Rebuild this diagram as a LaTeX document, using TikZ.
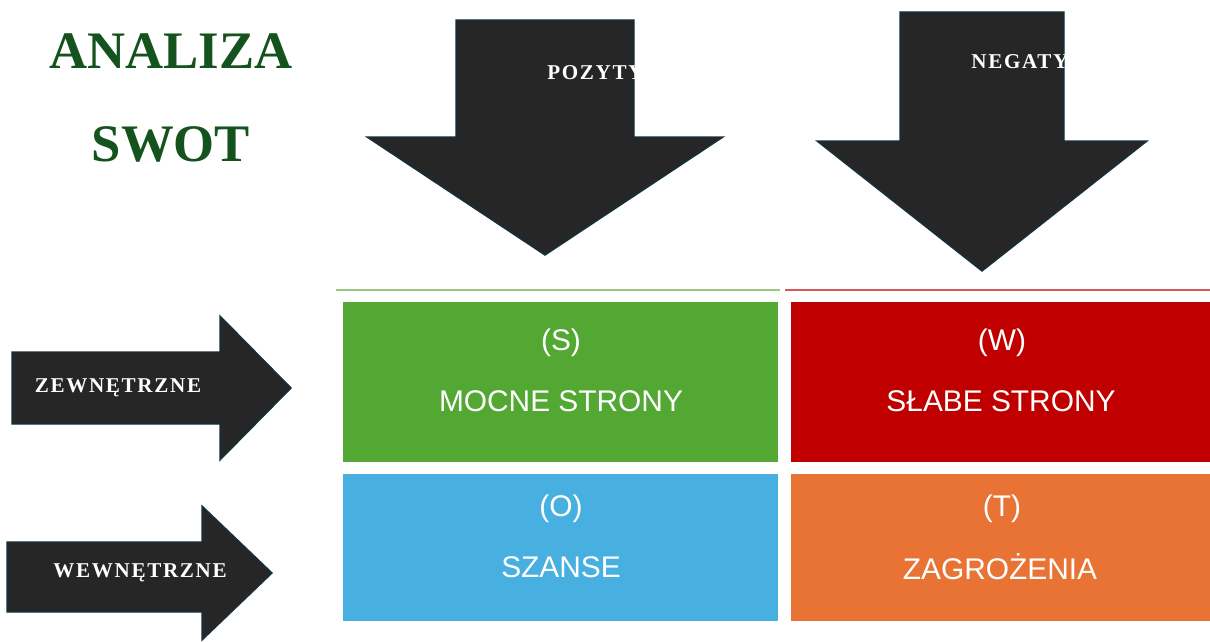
\documentclass[tikz,border=0pt]{standalone}
\usepackage{fontspec}
\setmainfont{Liberation Serif}
\newfontfamily\quadfont{Liberation Sans}
\newfontfamily\arrowfont[LetterSpace=8]{Liberation Serif}
\definecolor{titlegreen}{RGB}{20,82,30}
\definecolor{arrowfill}{RGB}{38,38,38}
\definecolor{arrowedge}{RGB}{22,48,62}
\definecolor{swotgreen}{RGB}{82,168,50}
\definecolor{swotred}{RGB}{192,0,0}
\definecolor{swotblue}{RGB}{71,176,224}
\definecolor{swotorange}{RGB}{232,115,52}
\tikzset{
  bigarrow/.style={fill=arrowfill, draw=arrowedge, line width=0.8pt, line join=miter},
  arrowtext/.style={text=white, font=\arrowfont\bfseries\fontsize{12}{14}\selectfont, inner sep=0pt},
  quadtext/.style={text=white, font=\quadfont\fontsize{17}{20}\selectfont, inner sep=0pt},
  titletext/.style={text=titlegreen, font=\bfseries\fontsize{30}{36}\selectfont, inner sep=0pt}
}
\begin{document}
\begin{tikzpicture}[x=0.02cm, y=-0.02cm]
  \useasboundingbox (0,0) rectangle (1210,642);

  % Title
  \node[titletext] (title1) at (171,51) {ANALIZA};
  \node[titletext] (title2) at (171,144) {SWOT};

  % Down arrow (positive)
  \draw[bigarrow] (456,20) -- (634,20) -- (634,137) -- (723,137) -- (545,255)
    -- (367,137) -- (456,137) -- cycle;
  \begin{scope}
    \clip (456,20) -- (634,20) -- (634,137) -- (456,137) -- cycle;
    \node[arrowtext, anchor=west] (pos) at (547,73) {POZYTYWNE};
  \end{scope}

  % Down arrow (negative)
  \draw[bigarrow] (900,12) -- (1064,12) -- (1064,141) -- (1147,141) -- (982,271)
    -- (817,141) -- (900,141) -- cycle;
  \begin{scope}
    \clip (900,12) -- (1064,12) -- (1064,141) -- (900,141) -- cycle;
    \node[arrowtext, anchor=west] (neg) at (971,62) {NEGATYWNE};
  \end{scope}

  % Right arrows
  \draw[bigarrow] (12,352) -- (220,352) -- (220,316) -- (291,388) -- (220,460)
    -- (220,424) -- (12,424) -- cycle;
  \node[arrowtext] (ext) at (118,388) {ZEWNĘTRZNE};

  \draw[bigarrow] (7,542) -- (202,542) -- (202,506) -- (272,573) -- (202,640)
    -- (202,612) -- (7,612) -- cycle;
  \node[arrowtext] (int) at (140,573) {WEWNĘTRZNE};

  % Top lines
  \draw[line width=1pt, color=swotgreen!60] (336,290) -- (780,290);
  \draw[line width=1pt, color=swotred!65!white] (785,290) -- (1210,290);

  % Quadrants
  \fill[swotgreen] (343,302) rectangle (778,462);
  \fill[swotred] (791,302) rectangle (1210,462);
  \fill[swotblue] (343,474) rectangle (778,621);
  \fill[swotorange] (791,474) rectangle (1210,621);

  \node[quadtext] (sl) at (561,343) {(S)};
  \node[quadtext] (st) at (561,401) {MOCNE STRONY};
  \node[quadtext] (wl) at (1002,343) {(W)};
  \node[quadtext] (wt) at (1001,401) {SŁABE STRONY};
  \node[quadtext] (ol) at (561,509) {(O)};
  \node[quadtext] (ot) at (561,567) {SZANSE};
  \node[quadtext] (tl) at (1002,509) {(T)};
  \node[quadtext] (tt) at (1000,567) {ZAGROŻENIA};
\end{tikzpicture}
\end{document}
